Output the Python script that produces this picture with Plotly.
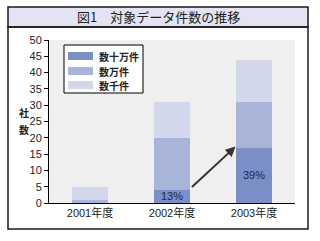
import plotly.graph_objects as go

categories = ["2001年度", "2002年度", "2003年度"]
series_names = ["数十万件", "数万件", "数千件"]
v_100k = [0, 4, 17]
v_10k = [1, 16, 14]
v_1k = [4, 11, 13]
colors = ["#7b8fc6", "#a9b4d9", "#d3d7ec"]
y_ticks = list(range(0, 51, 5))
title_text = "図1　対象データ件数の推移"
y_title_chars = ["社", "数"]

series_values = [v_100k, v_10k, v_1k]
totals = [a + b + c for a, b, c in zip(v_100k, v_10k, v_1k)]

W, H = 320, 241
L, R, T, B = 49, 25, 40, 38
pw, ph = W - L - R, H - T - B

def px(x):
    return (x - L) / pw

def py(y):
    return (H - B - y) / ph

font_lat = "Arial, 'Liberation Sans', 'Noto Sans CJK JP', sans-serif"
font_jp = "'Noto Sans CJK JP', sans-serif"

fig = go.Figure()
for name, vals, col in zip(series_names, series_values, colors):
    fig.add_trace(go.Bar(x=categories, y=vals, name=name, marker=dict(color=col, line=dict(width=0)),
                         width=0.45, showlegend=False, hoverinfo="skip"))

shapes = []
annotations = []

# outer frame and title bar
shapes.append(dict(type="rect", xref="paper", yref="paper", x0=px(8), x1=px(308), y0=py(7), y1=py(27),
                   fillcolor="#e3e3f3", line=dict(color="#1a1a1a", width=1.5), layer="below"))
shapes.append(dict(type="rect", xref="paper", yref="paper", x0=px(8), x1=px(308), y0=py(27), y1=py(229),
                   fillcolor="rgba(0,0,0,0)", line=dict(color="#1a1a1a", width=1.5), layer="below"))
annotations.append(dict(text=title_text, xref="paper", yref="paper", x=px(158), y=py(17), showarrow=False,
                        font=dict(family=font_jp, size=13, color="#222222"), xanchor="center", yanchor="middle"))

# y-axis title (stacked vertical characters)
for ch, anchor in zip(y_title_chars, ["bottom", "top"]):
    annotations.append(dict(text="<b>" + ch + "</b>", xref="paper", yref="paper", x=px(24), y=py(121),
                            showarrow=False, font=dict(family=font_jp, size=10, color="#222222"),
                            xanchor="center", yanchor=anchor, borderpad=0))

# legend box
shapes.append(dict(type="rect", xref="paper", yref="paper", x0=px(64), x1=px(143), y0=py(45), y1=py(93),
                   fillcolor="white", line=dict(color="black", width=1)))
row_y = [56, 71, 85]
for name, col, ry in zip(series_names, colors, row_y):
    shapes.append(dict(type="rect", xref="paper", yref="paper", x0=px(68), x1=px(93), y0=py(ry + 4), y1=py(ry - 4),
                       fillcolor=col, line=dict(width=0)))
    annotations.append(dict(text="<b>" + name + "</b>", xref="paper", yref="paper", x=px(97), y=py(ry),
                            showarrow=False, xanchor="left", yanchor="middle",
                            font=dict(family=font_jp, size=10, color="#222222")))

# percentage labels
for i, (v, t) in enumerate(zip(v_100k, totals)):
    if v > 0:
        annotations.append(dict(text=f"{round(100 * v / t)}%", x=i, y=v / 2, xref="x", yref="y",
                                showarrow=False, font=dict(family=font_lat, size=11, color="#1a2740")))

# arrow from 2002 to 2003
annotations.append(dict(x=2 - 0.225, y=v_100k[2] + 0.3, ax=1 + 0.225, ay=v_100k[1] + 0.5,
                        xref="x", yref="y", axref="x", ayref="y", text="", showarrow=True,
                        arrowhead=2, arrowsize=1, arrowwidth=2, arrowcolor="#333333"))

fig.update_layout(
    width=W, height=H, margin=dict(l=L, r=R, t=T, b=B),
    barmode="stack", bargap=0.55,
    paper_bgcolor="white", plot_bgcolor="#efefef",
    font=dict(family=font_lat, size=11, color="#222222"),
    shapes=shapes, annotations=annotations, showlegend=False,
    xaxis=dict(showline=True, linecolor="black", linewidth=1, ticks="", showgrid=False,
               tickfont=dict(size=11, color="#222222"), range=[-0.5, 2.5], fixedrange=True),
    yaxis=dict(range=[0, 50], tickvals=y_ticks, showline=True, linecolor="black", linewidth=1,
               ticks="outside", ticklen=4, tickcolor="black", showgrid=False, zeroline=False,
               tickfont=dict(size=11, color="#222222"), fixedrange=True),
)

fig.write_html("out.html", config={"displayModeBar": False})
